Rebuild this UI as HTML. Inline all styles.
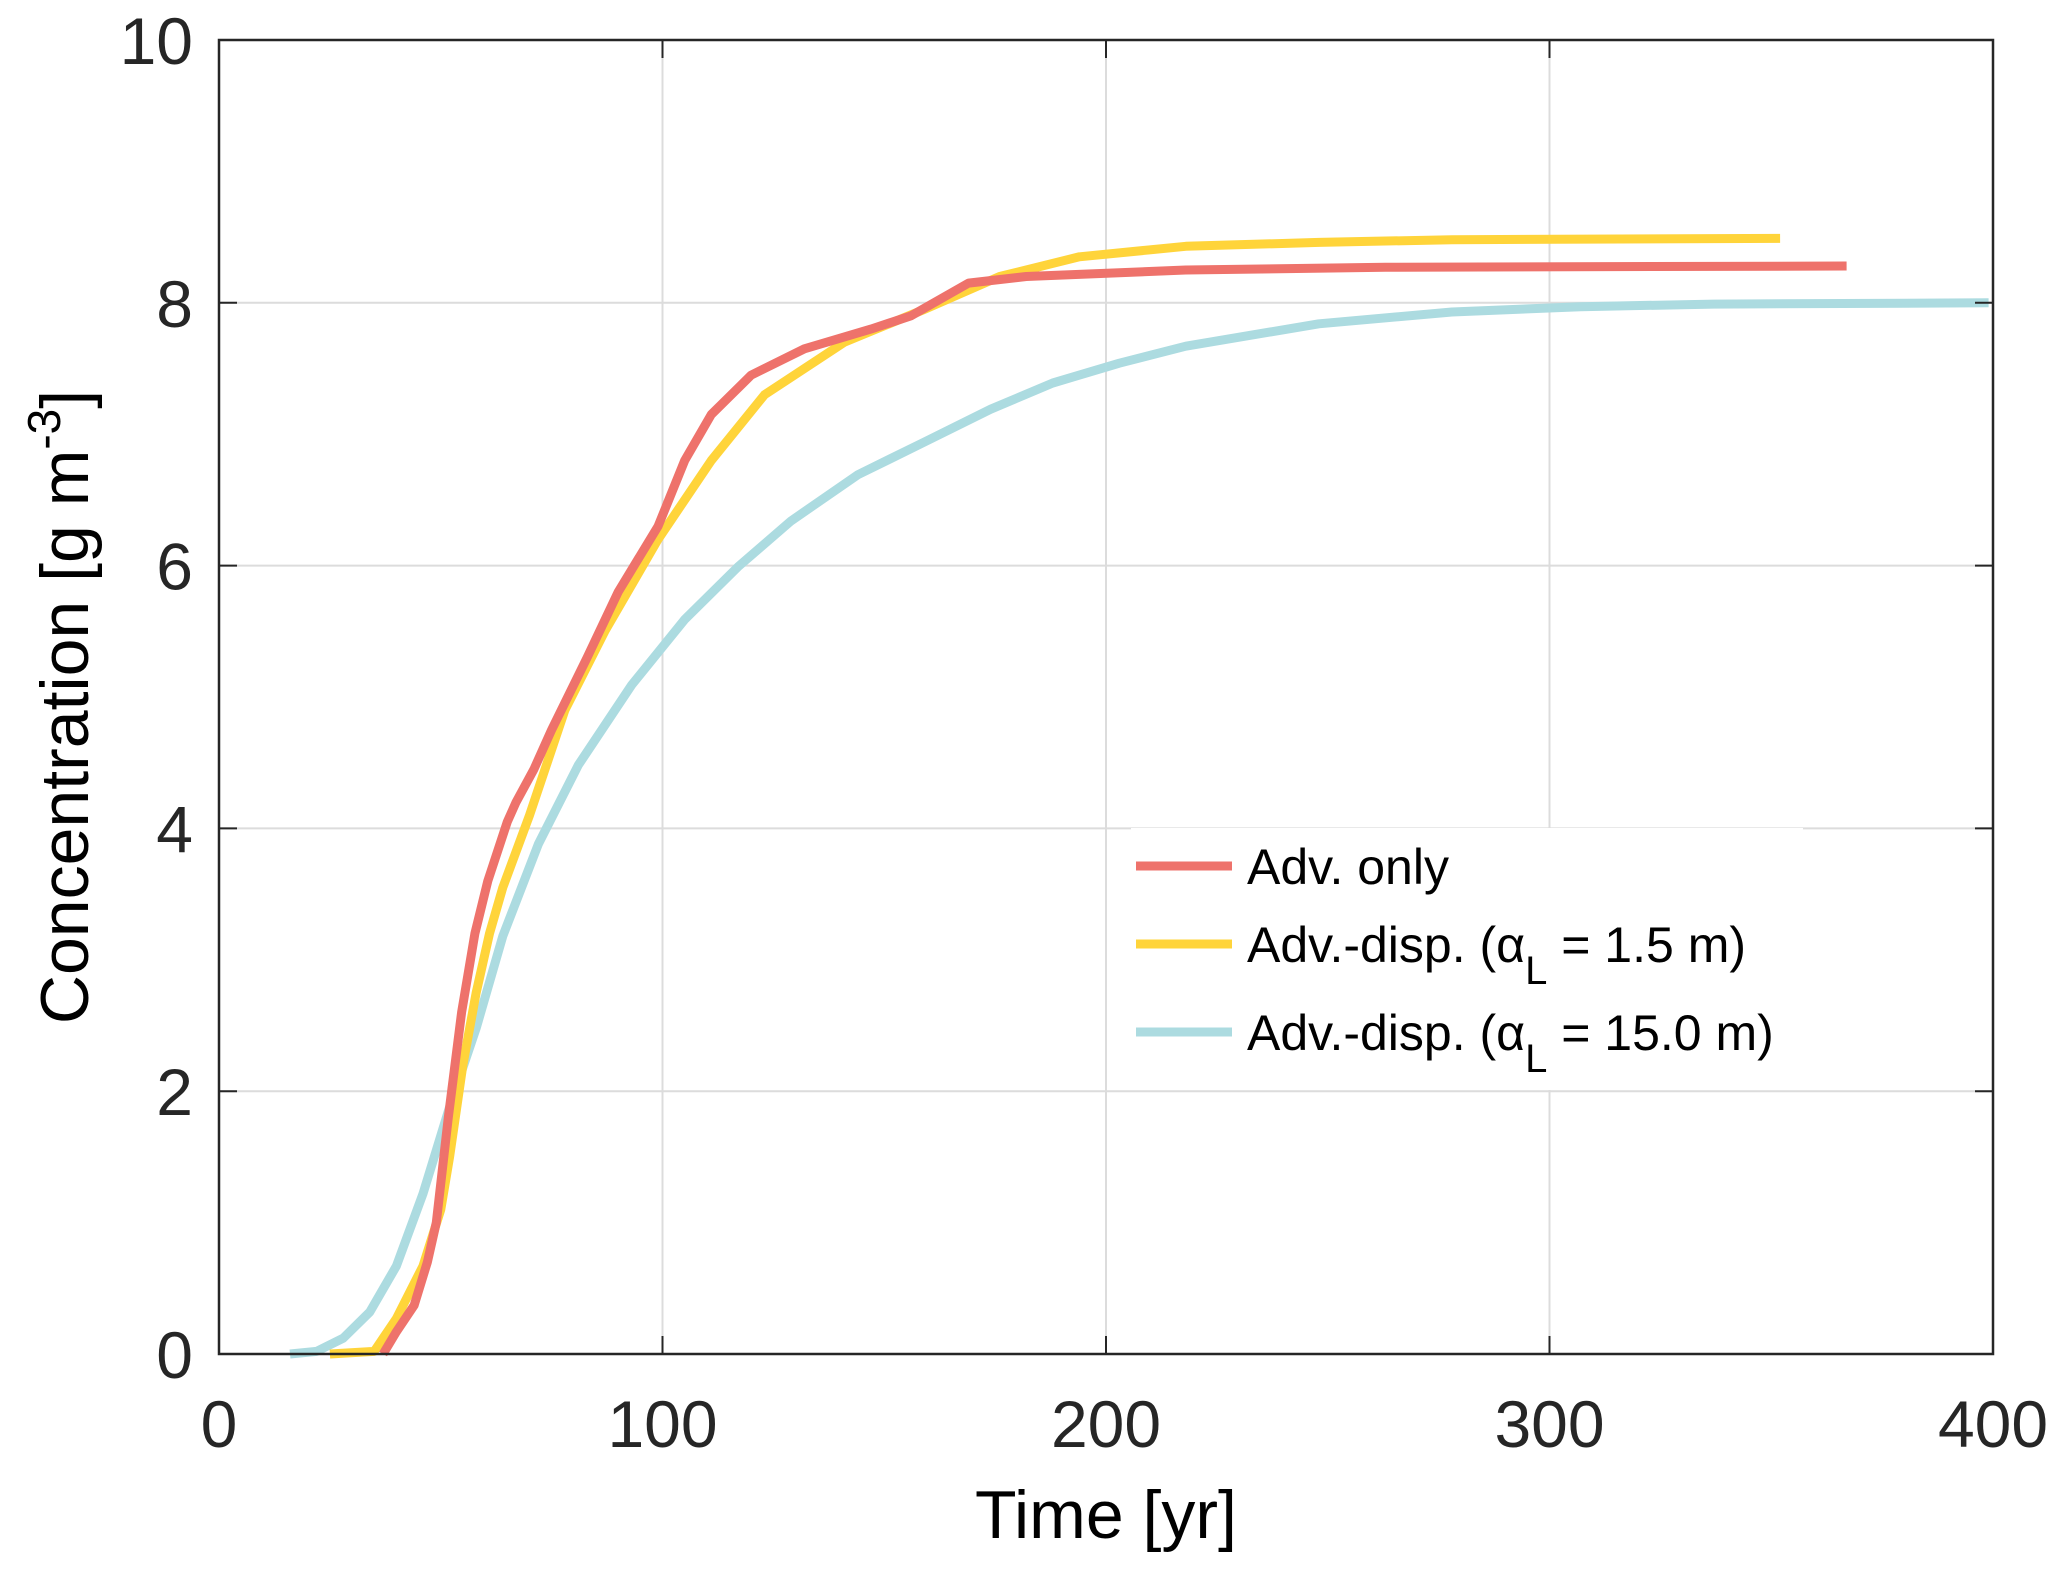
<!DOCTYPE html>
<html><head><meta charset="utf-8"><style>
html,body{margin:0;padding:0;background:#fff;}
svg{display:block;font-family:"Liberation Sans",Arial,sans-serif;}
</style></head><body>
<svg id="chart" width="2067" height="1570" viewBox="0 0 2067 1570">
<g id="grid"></g>
<g id="series"></g>
<g id="axes"></g>
<g id="legend"></g>
</svg>
<script>
const xTicks=[0,100,200,300,400];
const yTicks=[0,2,4,6,8,10];
const redT=[37,40,44,47,49,51.7,54.7,57.7,60.6,65,67,71,75,83,90,99,105,111,120,132,147,156,169,182,218,263,367];
const redC=[0,0.17,0.37,0.7,1.0,1.8,2.6,3.2,3.6,4.05,4.2,4.45,4.75,5.3,5.8,6.3,6.8,7.15,7.45,7.65,7.8,7.9,8.15,8.2,8.25,8.27,8.28];
const yelT=[25,35,40,46,50,52,55,58,61,64,70,78,87,99,111,123,141,159,176,194,218,248,278,352];
const yelC=[0,0.02,0.27,0.67,1.1,1.5,2.2,2.75,3.2,3.55,4.1,4.9,5.5,6.2,6.8,7.3,7.7,7.95,8.2,8.35,8.43,8.46,8.48,8.49];
const cyaT=[16,22,28,34,40,46,52,58,64,72,81,93,105,117,129,144,159,174,188,203,218,248,278,307,337,399];
const cyaC=[0,0.02,0.12,0.32,0.67,1.22,1.88,2.48,3.18,3.88,4.48,5.09,5.59,5.99,6.34,6.69,6.94,7.19,7.39,7.54,7.67,7.84,7.93,7.97,7.99,8.0];
const legendLabels=["Adv. only","Adv.-disp. (\u03B1","Adv.-disp. (\u03B1"];

const NS="http://www.w3.org/2000/svg";
const L=219,R=1993,T=40,B=1354;
const sx=v=>L+(v-0)/(400-0)*(R-L);
const sy=v=>B-(v-0)/(10-0)*(B-T);
function mk(tag,attrs,parent){const e=document.createElementNS(NS,tag);for(const k in attrs)e.setAttribute(k,attrs[k]);parent.appendChild(e);return e;}
const grid=document.getElementById('grid'),axes=document.getElementById('axes'),ser=document.getElementById('series'),leg=document.getElementById('legend');

xTicks.forEach(v=>{
 if(v>0&&v<400){const g=mk('line',{x1:sx(v),x2:sx(v),y1:T,y2:B,stroke:'#dcdcdc','stroke-width':2},grid);
 
 }
 const t1=mk('line',{x1:sx(v),x2:sx(v),y1:B,y2:B-18,stroke:'#262626','stroke-width':2},axes);
 
 
 const t2=mk('line',{x1:sx(v),x2:sx(v),y1:T,y2:T+18,stroke:'#262626','stroke-width':2},axes);
 
 
 const tx=mk('text',{x:sx(v),y:1447,'text-anchor':'middle','font-size':66,fill:'#262626'},axes);
 tx.textContent=v;
 
 
});
yTicks.forEach(v=>{
 if(v>0&&v<10){const g=mk('line',{x1:L,x2:R,y1:sy(v),y2:sy(v),stroke:'#dcdcdc','stroke-width':2},grid);
 
 }
 const t1=mk('line',{x1:L,x2:L+18,y1:sy(v),y2:sy(v),stroke:'#262626','stroke-width':2},axes);
 
 
 const t2=mk('line',{x1:R,x2:R-18,y1:sy(v),y2:sy(v),stroke:'#262626','stroke-width':2},axes);
 
 
 const tx=mk('text',{x:193,y:sy(v)+24,'text-anchor':'end','font-size':66,fill:'#262626'},axes);
 tx.textContent=v;
 
 
});
const frame=mk('rect',{x:L,y:T,width:R-L,height:B-T,fill:'none',stroke:'#262626','stroke-width':2.5},axes);



const xt=mk('text',{x:(L+R)/2,y:1538,'text-anchor':'middle','font-size':68,fill:'#000'},axes);
xt.textContent='Time [yr]';


const yt=mk('text',{x:0,y:0,'text-anchor':'middle','font-size':68,fill:'#000',transform:'translate(88,'+((T+B)/2+10)+') rotate(-90)'},axes);
yt.innerHTML='Concentration [g m<tspan dy="-28" font-size="46">-3</tspan><tspan dy="28">]</tspan>';



function drawLine(ts,cs,color,name){
 const d=ts.map((t,i)=>(i?'L':'M')+sx(t).toFixed(1)+','+sy(cs[i]).toFixed(1)).join(' ');
 const p=mk('path',{d:d,fill:'none',stroke:color,'stroke-width':9,'stroke-linejoin':'round'},ser);
 
 
}
drawLine(cyaT,cyaC,'#acdbe0','series-adv-disp-15m');
drawLine(yelT,yelC,'#ffd43a','series-adv-disp-1-5m');
drawLine(redT,redC,'#ee726b','series-adv-only');

const lb=mk('rect',{x:1131,y:828,width:672,height:262,fill:'#fff'},leg);


const lc=['#ee726b','#ffd43a','#acdbe0'],ly=[866,944,1032],subs=['',' = 1.5 m)',' = 15.0 m)'];
for(let i=0;i<3;i++){
 const s=mk('line',{x1:1136,x2:1232,y1:ly[i],y2:ly[i],stroke:lc[i],'stroke-width':9},leg);
 
 
 const t=mk('text',{x:1247,y:ly[i]+18,'font-size':50,fill:'#000'},leg);
 if(i===0){t.textContent=legendLabels[0];}
 else{t.innerHTML=legendLabels[i]+'<tspan dy="22" font-size="40">L</tspan><tspan dy="-22">'+subs[i]+'</tspan>';}
 
 
}
</script>
</body></html>
